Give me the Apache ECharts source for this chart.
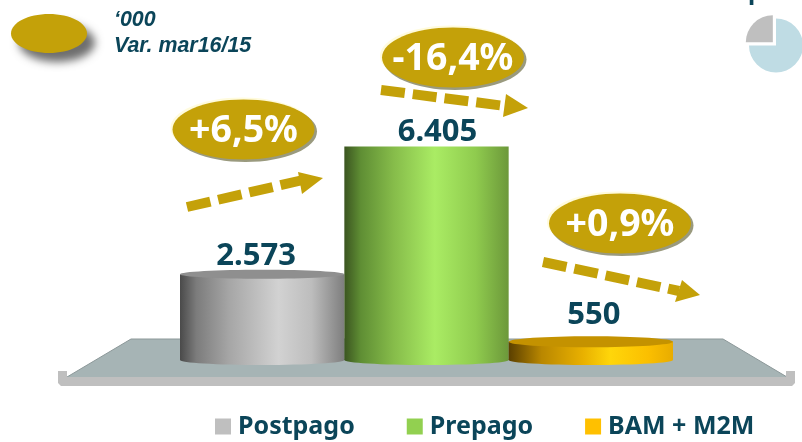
<!DOCTYPE html>
<html><head><meta charset="utf-8">
<style>html,body{margin:0;padding:0;background:#fff}#c{width:802px;height:442px}</style>
<script src="https://cdn.jsdelivr.net/npm/echarts@6/dist/echarts.min.js"></script>
</head><body><div id="c"></div>
<script>
const categories = ['Postpago', 'Prepago', 'BAM + M2M'];
const values = [2573, 6405, 550];
const valueLabels = ['2.573', '6.405', '550'];
const variations = ['+6,5%', '-16,4%', '+0,9%'];
const shareValues = [75, 25];
const noteLines = ['‘000', 'Var. mar16/15'];
const croppedTitle = 'pos';

const INK = '#0B4559', GOLD = '#C4A109';
const looks = [
  { color: '#BFBFBF', top: '#8F8F8F', ry: 5, topRy: 4.5, labelDx: -6, labelDy: -18,
    stops: [[0,'#4A4A4A'],[0.1,'#7C7C7C'],[0.3,'#A6A6A6'],[0.6,'#D2D2D2'],[0.8,'#BDBDBD'],[1,'#7E7E7E']] },
  { color: '#92D050', top: null, ry: 5, topRy: 0, labelDx: 11, labelDy: -14,
    stops: [[0,'#3B5520'],[0.1,'#5F8E34'],[0.3,'#86BC4A'],[0.55,'#AAEC64'],[0.8,'#8FCB4E'],[1,'#6C983A']] },
  { color: '#FFC000', top: '#C49200', ry: 5, topRy: 5.5, labelDx: 3, labelDy: -26,
    stops: [[0,'#5A3F00'],[0.2,'#B98700'],[0.45,'#E8B000'],[0.62,'#FFD60A'],[0.85,'#FBBF00'],[1,'#E8AC00']] }
];

function gradient(stops) {
  return { type:'linear', x:0, y:0, x2:1, y2:0,
    colorStops: stops.map(s => ({ offset:s[0], color:s[1] })) };
}
function cylinder(look) {
  return function (params, api) {
    const idx = api.value(0), val = api.value(1);
    const top = api.coord([idx, val]), base = api.coord([idx, 0]);
    const w = api.size([1, 0])[0];
    const fill = gradient(look.stops);
    const kids = [
      { type:'ellipse', shape:{ cx:top[0], cy:base[1], rx:w/2, ry:look.ry }, style:{ fill } },
      { type:'rect', shape:{ x:top[0]-w/2, y:top[1], width:w, height:base[1]-top[1] }, style:{ fill } }
    ];
    if (look.top) kids.push({ type:'ellipse', shape:{ cx:top[0], cy:top[1], rx:w/2, ry:look.topRy }, style:{ fill:look.top } });
    kids.push({ type:'text', style:{ text:valueLabels[idx], x:top[0]+look.labelDx, y:top[1]+look.labelDy,
      align:'center', verticalAlign:'middle', fill:INK, font:'bold 31px "Noto Sans"' } });
    return { type:'group', children:kids };
  };
}

const badgePlaces = [[243.5,129.5],[453,57.5],[620,223.5]];
function badge(c, text) {
  return [
    { type:'ellipse', shape:{cx:c[0]-1.5,cy:c[1]-1.5,rx:71.5,ry:30.5}, style:{fill:'#FFFBDD'}, z:5 },
    { type:'ellipse', shape:{cx:c[0]+2,cy:c[1]+2,rx:71.5,ry:30.5}, style:{fill:'#9A9A7E'}, z:5 },
    { type:'ellipse', shape:{cx:c[0],cy:c[1],rx:71,ry:30}, style:{fill:GOLD}, z:6 },
    { type:'text', style:{ text, x:c[0], y:c[1]+2, align:'center', verticalAlign:'middle', fill:'#fff', font:'bold 37.5px "Noto Sans"' }, z:7 }
  ];
}
function arrow(from, to, head) {
  return [
    { type:'polyline', shape:{points:[from,to]}, style:{stroke:GOLD,lineWidth:10,lineDash:[24,8],fill:null}, z:5 },
    { type:'polygon', shape:{points:head}, style:{fill:GOLD}, z:5 }
  ];
}

const graphic = [
  { type:'polygon', shape:{points:[[131,339],[723,339],[787,377],[67,377]]}, style:{fill:'#A6B4B5'}, z:-2 },
  { type:'polyline', shape:{points:[[67,377],[131,339],[723,339],[787,377]]}, style:{stroke:'#8C9899',lineWidth:1,fill:null}, z:-2 },
  { type:'polygon', shape:{points:[[58,371],[67,371],[67,377],[786,377],[786,371],[795,371],[795,383],[792,386],[61,386],[58,383]]}, style:{fill:'#BFBFBF'}, z:-2 },
  { type:'ellipse', shape:{cx:49,cy:33.5,rx:38,ry:19.5},
    style:{fill:GOLD,shadowBlur:9,shadowOffsetX:8,shadowOffsetY:9,shadowColor:'#6E6E6E'}, z:6 },
  { type:'text', style:{text:noteLines[0],x:114,y:20,verticalAlign:'middle',fill:INK,font:'italic bold 21.4px "Liberation Sans"'}, z:6 },
  { type:'text', style:{text:noteLines[1],x:114,y:46,verticalAlign:'middle',fill:INK,font:'italic bold 21.4px "Liberation Sans"'}, z:6 },
  { type:'text', style:{text:croppedTitle,x:748,y:4.5,verticalAlign:'bottom',fill:INK,font:'bold 24px "Noto Sans"'}, z:6 },
  ...badgePlaces.flatMap((c,i) => badge(c, variations[i])),
  ...arrow([187,207],[303,180],[[323,178],[298,172],[302,194]]),
  ...arrow([381,90],[505,106],[[528,108],[506,94],[503,117]]),
  ...arrow([543,262],[679,291],[[700,295],[682,280],[675,302]])
];

const option = {
  animation:false,
  backgroundColor:'#fff',
  grid:{ left:180, right:129, top:60, bottom:82 },
  xAxis:{ type:'category', data:categories, show:false },
  yAxis:{ type:'value', min:0, max:9000, show:false },
  legend:{ data:categories, left:210, top:409, icon:'rect', itemWidth:16, itemHeight:16, itemGap:52,
    textStyle:{ color:INK, fontFamily:'Noto Sans', fontWeight:'bold', fontSize:25, padding:[0,0,0,2] } },
  series:[
    ...categories.map((name,i) => ({
      type:'custom', name, coordinateSystem:'cartesian2d', z:2+i,
      itemStyle:{ color:looks[i].color },
      encode:{ x:0, y:1 },
      renderItem:cylinder(looks[i]),
      data:[[i, values[i]]]
    })),
    { type:'pie', center:[776,45.5], radius:[0,27], label:{show:false}, labelLine:{show:false}, silent:true,
      selectedMode:'single', selectedOffset:4.5, startAngle:90, clockwise:true,
      data:[
        { value:shareValues[0], name:'share', itemStyle:{color:'#BFDCE4'} },
        { value:shareValues[1], name:'rest', selected:true, itemStyle:{color:'#BFBFBF'} }
      ] }
  ],
  graphic
};
echarts.init(document.getElementById('c'),null,{renderer:'canvas'}).setOption(option);
</script></body></html>
